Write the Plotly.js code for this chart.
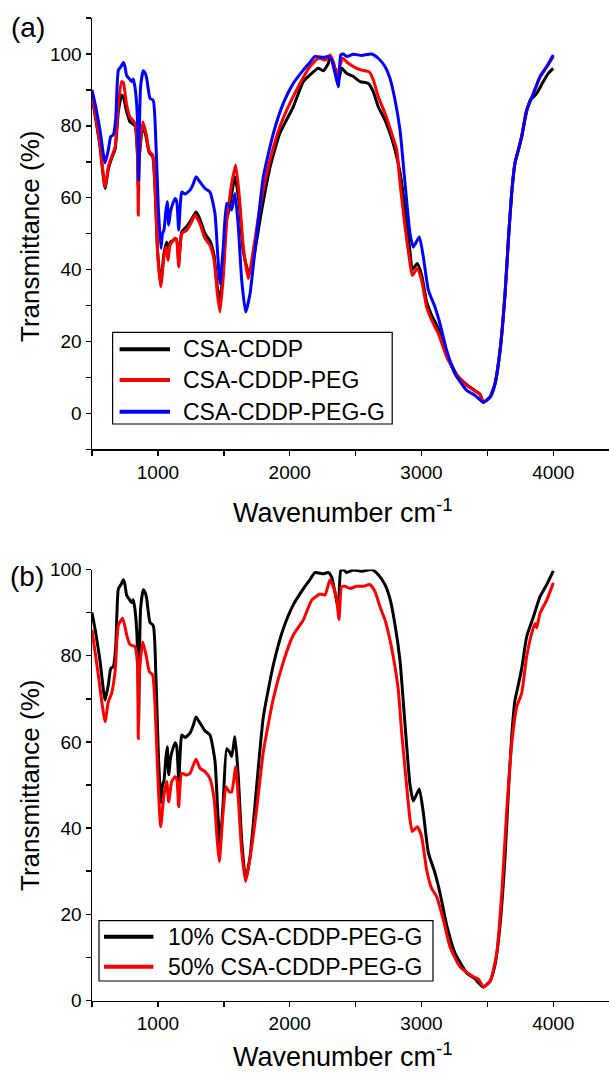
<!DOCTYPE html>
<html>
<head>
<meta charset="utf-8">
<script src="https://cdn.plot.ly/plotly-3.0.1.min.js"></script>
<style>html,body{margin:0;padding:0;background:#fff;}#chart{width:609px;height:1076px;}</style>
</head>
<body>
<div id="chart"></div>
<script>
// ---------- DATA ----------
// Panel (a)
const cddpX = [500,530,560,599,624,649,675,700,725,738,763,788,826,845,851,857,864,885,910,935,960,978,998,1021,1046,1067,1077,1092,1140,1158,1181,1219,1256,1290,1319,1357,1395,1426,1451,1471,1496,1522,1542,1585,1618,1648,1690,1730,1780,1851,1926,2027,2103,2167,2217,2255,2293,2306,2344,2369,2394,2432,2483,2534,2597,2634,2672,2723,2761,2799,2837,2875,2913,2930,2968,3001,3039,3077,3128,3191,3267,3343,3419,3445,3469,3520,3558,3596,3634,3659,3684,3709,3735,3760,3798,3830,3849,3874,3924,3962,4000];
const cddpY = [88,81.5,74.5,62.6,68,71,73.5,84,88.6,88,84,81.1,80,72,63,70,73.5,80,77,72.5,71.5,63,45,36,44.5,47.7,44,47.5,48.5,42,50.5,52,54,56,54,50,48,44,35,31.5,40,54,57,65.8,58,45,38.9,44,55,68.5,78,85.3,92.3,94.6,96,95.3,97.4,99.3,96,92.3,96,94.6,93.7,92.3,91.8,89.5,85.3,81.6,77.9,73.3,67,57,45,40,41.7,38.5,31,27.3,23.5,16.5,10.8,8,6,5.3,3.1,4.5,8.3,17.5,33.3,48.2,61.2,69.6,73.3,77,84,87.5,88,89,92.3,94.6,96];

const pegX = [500,530,560,599,624,649,675,700,725,738,763,788,826,845,851,857,864,885,910,935,960,978,998,1021,1046,1061,1077,1092,1130,1143,1158,1181,1219,1256,1281,1319,1357,1395,1426,1451,1471,1496,1522,1542,1560,1590,1618,1648,1686,1724,1775,1851,1926,2002,2078,2154,2217,2268,2306,2331,2357,2382,2402,2445,2508,2559,2604,2634,2672,2723,2774,2812,2837,2875,2913,2930,2968,3001,3039,3077,3128,3191,3267,3343,3419,3445,3469,3520,3558,3596,3634,3659,3684,3709,3735,3760,3798,3849,3899,3950,4000];
const pegY = [88.6,82,75,63,68.6,71.4,74,86.3,92.3,92,85.8,82.5,80.7,72.3,55.2,70,74.2,81.1,77.9,72.8,71.9,63,44.5,35.2,43.5,46.3,42.6,46.8,48.7,48,40.8,50,51,53.3,55.2,52.8,48.7,46.8,42.6,33.3,28.2,38,53.8,59.3,64,69.1,60.3,46.3,37.5,45.4,57.5,70.5,79.8,86.3,91.8,96.5,98.8,98.3,99.7,97.8,93.7,96.8,98.8,97.4,96,95.4,95,92.8,88.1,83.5,77.9,73.3,64,51.9,41.7,38.4,40.3,37,29.6,25.9,22.2,15.7,10.6,7.8,5.9,5.2,3.1,4.5,8.3,17.5,33.3,48.2,61.2,69.6,73.3,77,84.4,89,93.5,96.3,99.3];

const pegGX = [500,530,560,599,624,642,662,680,700,720,738,750,763,785,801,813,825,839,848,854,860,869,889,905,915,940,965,986,1003,1023,1035,1046,1061,1071,1082,1095,1105,1130,1143,1158,1170,1181,1206,1244,1270,1289,1319,1357,1395,1433,1453,1471,1496,1522,1547,1560,1585,1610,1636,1666,1699,1750,1800,1876,1952,2027,2103,2150,2192,2255,2293,2318,2344,2369,2387,2407,2432,2483,2546,2622,2672,2723,2761,2799,2837,2875,2913,2938,2983,3014,3052,3102,3140,3191,3254,3343,3406,3469,3520,3558,3596,3634,3659,3684,3709,3735,3760,3798,3849,3899,3950,4000];
const pegGY = [90,85,79,69.7,73.3,77,77.5,82,95.5,96.5,97.6,96.5,94,93,92.3,93,91,86,78,65,80,91,95.3,94.5,93.2,87.7,87,74.2,57.5,45.9,50,51,56.5,58.9,52.4,56,57.5,59.8,58.9,51,58,61.6,61,62.1,64,65.8,64.4,62.6,61.6,55.6,44.5,36.1,46.3,58.4,57.5,56.6,61.2,51.9,37,28.2,33.3,50,65.8,77.9,86.3,91.8,95.5,97.5,99.3,99,99.3,98.3,94.6,90.9,99.7,100,99.3,99.9,99.6,100,98.8,96.5,93.2,87.2,78.8,64,50,46.3,49.1,43.5,34.3,29.6,25,17.5,11,6.4,5,3.1,4.5,8.3,17.5,33.3,48.2,61.2,69.6,73.3,77,84.4,89,93.7,96.5,99.7];

// Panel (b)
const pct10X = pegGX;   // 10% CSA-CDDP-PEG-G (same spectrum as CSA-CDDP-PEG-G in panel a)
const pct10Y = pegGY;
const pct50X = [500,548,599,624,649,675,700,733,763,788,826,845,851,857,864,885,910,935,960,978,998,1021,1046,1067,1082,1105,1130,1143,1158,1181,1219,1244,1289,1319,1357,1395,1426,1451,1466,1491,1517,1542,1560,1590,1610,1636,1666,1699,1750,1800,1876,1952,2027,2103,2167,2230,2268,2306,2331,2357,2374,2394,2420,2458,2508,2559,2609,2647,2685,2723,2761,2799,2824,2850,2888,2913,2930,2968,3001,3039,3077,3115,3166,3216,3292,3393,3431,3469,3520,3571,3609,3647,3685,3723,3760,3798,3836,3861,3874,3899,3950,4000];
const pct50Y = [86,75.5,64.7,69.3,71.3,76.3,87.1,88.7,84.8,82.6,82.1,78,60.8,74,77.8,83.2,80.2,76.3,75.5,68.6,53.1,40.3,47.7,50.8,46.1,50.8,51.9,51.5,45,52.7,52.3,52.7,56,53.9,53.1,51.5,46.9,36.8,32.2,42.3,49.6,48.4,48.4,54.2,46.9,34.5,27.6,33,44.6,57.7,70.1,78.6,84.8,88.3,92.9,94.3,94.1,97.6,96,92.9,88.4,96,96.1,95.6,96.1,96.1,96.5,94.9,91.4,88.3,83.6,77.4,72,62,49.6,41.9,39.2,40.3,38,30.3,26,24.1,18.7,12.5,7.8,5.5,5,3.2,4.4,11,24.9,44.2,59.7,68.2,71.3,79.8,85.2,87.5,86.5,89.8,92.9,96.9];

const namesA = ["CSA-CDDP", "CSA-CDDP-PEG", "CSA-CDDP-PEG-G"];
const colorsA = ["#000000", "#ff0000", "#0000ff"];
const namesB = ["10% CSA-CDDP-PEG-G", "50% CSA-CDDP-PEG-G"];
const colorsB = ["#000000", "#ff0000"];
const xTitle = "Wavenumber cm<sup>-1</sup>";
const yTitle = "Transmittance (%)";

// ---------- LAYOUT HELPERS ----------
const W = 609, H = 1076;
const FONT = "Arial, 'Liberation Sans', sans-serif";
const px = v => v / W;           // pixel x -> paper
const py = v => 1 - v / H;       // pixel y -> paper

const seriesA = [[cddpX, cddpY], [pegX, pegY], [pegGX, pegGY]];
const seriesB = [[pct10X, pct10Y], [pct50X, pct50Y]];

const traces = [];
seriesA.forEach((s, i) => traces.push({x: s[0], y: s[1], name: namesA[i], type: 'scatter', mode: 'lines',
  line: {color: colorsA[i], width: 3, shape: 'spline', smoothing: 0.5}, xaxis: 'x', yaxis: 'y', showlegend: false}));
seriesB.forEach((s, i) => traces.push({x: s[0], y: s[1], name: namesB[i], type: 'scatter', mode: 'lines',
  line: {color: colorsB[i], width: 3, shape: 'spline', smoothing: 0.5}, xaxis: 'x2', yaxis: 'y2', showlegend: false}));

const xDomain = [px(92), 1];
const xRange = [500, 500 + (W - 92) / 0.1318];
const tickFont = {family: FONT, size: 19, color: '#000'};

function xAxis(anchor) {
  return {domain: xDomain, range: xRange, anchor: anchor, showline: true, linecolor: '#000', linewidth: 1.5,
    ticks: 'outside', ticklen: 5, tickwidth: 1.5, tickcolor: '#000', dtick: 1000, tick0: 0,
    minor: {dtick: 500, tick0: 0, ticks: 'outside', ticklen: 5, tickwidth: 1.5, tickcolor: '#000', showgrid: false},
    showgrid: false, zeroline: false, tickfont: tickFont};
}
function yAxis(anchor, domain, range) {
  return {domain: domain, range: range, anchor: anchor, showline: true, linecolor: '#000', linewidth: 1.5,
    ticks: 'outside', ticklen: 5, tickwidth: 1.5, tickcolor: '#000', dtick: 20, tick0: 0,
    minor: {dtick: 10, tick0: 0, ticks: 'outside', ticklen: 5, tickwidth: 1.5, tickcolor: '#000', showgrid: false},
    showgrid: false, zeroline: false, tickfont: tickFont};
}

const annotations = [];
const shapes = [];
function txt(text, x, y, size, opts) {
  annotations.push(Object.assign({text: text, x: px(x), y: py(y), xref: 'paper', yref: 'paper',
    showarrow: false, font: {family: FONT, size: size, color: '#000'}, xanchor: 'center', yanchor: 'middle'}, opts || {}));
}
txt('(a)', 28, 28, 28);
txt('(b)', 27, 576, 28);
txt(xTitle, 343, 511, 27);
txt(xTitle, 343, 1055, 27);
txt(yTitle, 30, 237, 26, {textangle: -90});
txt(yTitle, 30, 786, 26, {textangle: -90});

function legend(box, lineX, textX, rows, names, colors) {
  shapes.push({type: 'rect', xref: 'paper', yref: 'paper', x0: px(box[0]), x1: px(box[1]), y0: py(box[3]), y1: py(box[2]),
    line: {color: '#000', width: 1.2}, fillcolor: 'rgba(0,0,0,0)'});
  names.forEach((n, i) => {
    shapes.push({type: 'line', xref: 'paper', yref: 'paper', x0: px(lineX[0]), x1: px(lineX[1]), y0: py(rows[i]), y1: py(rows[i]),
      line: {color: colors[i], width: 4}});
    txt(n, textX, rows[i], 23, {xanchor: 'left'});
  });
}
legend([112.6, 392.2, 332.3, 424], [119.6, 170], 181, [349.3, 380, 411.7], namesA, colorsA);
legend([99, 433, 920.7, 981], [104, 153.4], 166, [936.7, 966.7], namesB, colorsB);

const layout = {
  width: W, height: H, margin: {l: 0, r: 0, t: 0, b: 0},
  paper_bgcolor: '#fff', plot_bgcolor: 'rgba(0,0,0,0)',
  showlegend: false,
  xaxis: xAxis('y'),
  yaxis: yAxis('x', [py(449.3), py(18)], [-10, 110]),
  xaxis2: xAxis('y2'),
  yaxis2: yAxis('x2', [py(1000.5), py(569.5)], [0, 100]),
  annotations: annotations, shapes: shapes,
  font: {family: FONT, color: '#000'}
};
Plotly.newPlot('chart', traces, layout, {staticPlot: true, displayModeBar: false});
</script>
</body>
</html>
